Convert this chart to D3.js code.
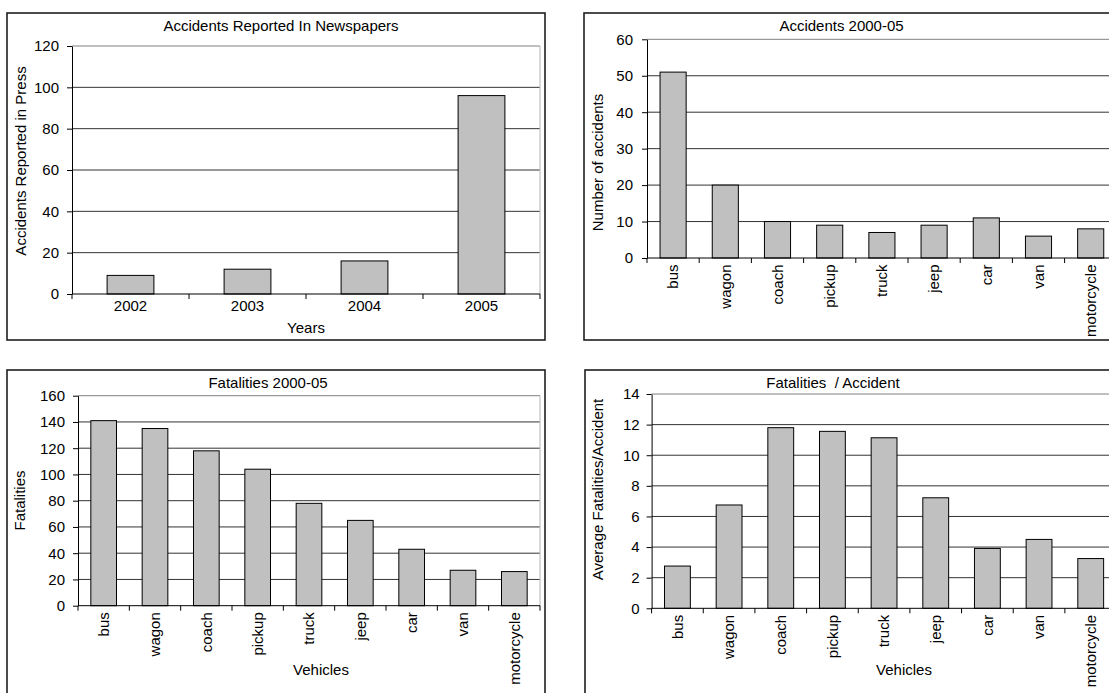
<!DOCTYPE html>
<html>
<head>
<meta charset="utf-8">
<script src="https://cdn.jsdelivr.net/npm/d3@7"></script>
<style>
  html, body { margin: 0; padding: 0; background: #fff; }
  svg { display: block; }
</style>
</head>
<body>
<svg id="chart" width="1109" height="693"></svg>
<script>
// ---- data ----
const yearCats = ["2002", "2003", "2004", "2005"];
const pressReports = [9, 12, 16, 96];

const vehicleCats = ["bus", "wagon", "coach", "pickup", "truck", "jeep", "car", "van", "motorcycle"];
const accidentCounts = [51, 20, 10, 9, 7, 9, 11, 6, 8];
const fatalityCounts = [141, 135, 118, 104, 78, 65, 43, 27, 26];
const fatalitiesPerAccident = [2.76, 6.75, 11.8, 11.56, 11.14, 7.22, 3.91, 4.5, 3.25];

const pressTicks = [0, 20, 40, 60, 80, 100, 120];
const accidentTicks = [0, 10, 20, 30, 40, 50, 60];
const fatalityTicks = [0, 20, 40, 60, 80, 100, 120, 140, 160];
const ratioTicks = [0, 2, 4, 6, 8, 10, 12, 14];

// ---- drawing ----
const FONT = "'Liberation Sans', Arial, Helvetica, sans-serif";
const FS = 15;
const svg = d3.select("#chart");
svg.append("rect").attr("width", 1109).attr("height", 693).attr("fill", "#fff");

function panel(cfg) {
  const g = svg.append("g").attr("font-family", FONT).attr("font-size", FS);
  const p = cfg.plot;

  // chart-area frame
  g.append("rect")
    .attr("x", cfg.frame[0]).attr("y", cfg.frame[1])
    .attr("width", cfg.frame[2] - cfg.frame[0]).attr("height", cfg.frame[3] - cfg.frame[1])
    .attr("fill", "#fff").attr("stroke", "#1e1e1e").attr("stroke-width", 1.6);

  const x = d3.scaleBand().domain(cfg.cats).range([p.left, p.right])
    .paddingInner(cfg.gap).paddingOuter(cfg.gap / 2);
  const y = d3.scaleLinear().domain([0, d3.max(cfg.ticks)]).range([p.bottom, p.top]);

  // horizontal gridlines
  g.append("g").selectAll("line").data(cfg.ticks.slice(1, -1)).join("line")
    .attr("x1", p.left).attr("x2", p.right)
    .attr("y1", d => y(d)).attr("y2", d => y(d))
    .attr("stroke", "#333").attr("stroke-width", 1);

  // plot-area border (top & right)
  g.append("line").attr("x1", p.left).attr("x2", p.right)
    .attr("y1", y(d3.max(cfg.ticks))).attr("y2", y(d3.max(cfg.ticks)))
    .attr("stroke", "#808080").attr("stroke-width", 1);
  g.append("line").attr("x1", p.right).attr("x2", p.right)
    .attr("y1", p.top).attr("y2", p.bottom)
    .attr("stroke", "#b4b4b4").attr("stroke-width", 1);

  // bars
  g.append("g").selectAll("rect").data(cfg.values).join("rect")
    .attr("x", (d, i) => x(cfg.cats[i]))
    .attr("y", d => y(d))
    .attr("width", x.bandwidth())
    .attr("height", d => y(0) - y(d))
    .attr("fill", "#c0c0c0").attr("stroke", "#000").attr("stroke-width", 1);

  // y axis
  const ya = g.append("g").attr("transform", `translate(${p.left},0)`)
    .call(d3.axisLeft(y).tickValues(cfg.ticks).tickSize(5).tickSizeOuter(0)
      .tickPadding(cfg.yPad).tickFormat(d3.format("d")));
  ya.attr("font-family", FONT).attr("font-size", FS);
  ya.select(".domain").attr("stroke", "#000");

  // x axis: baseline, boundary ticks, category labels
  const y0 = y(0);
  g.append("line").attr("x1", p.left).attr("x2", p.right)
    .attr("y1", y0).attr("y2", y0).attr("stroke", "#000");
  g.append("g").selectAll("line").data(d3.range(cfg.cats.length + 1)).join("line")
    .attr("x1", i => p.left + i * x.step()).attr("x2", i => p.left + i * x.step())
    .attr("y1", y0).attr("y2", y0 + 5).attr("stroke", "#000");

  const xa = g.append("g").attr("transform", `translate(0,${y0})`)
    .call(d3.axisBottom(x).tickSize(0).tickPadding(6));
  xa.attr("font-family", FONT).attr("font-size", FS);
  xa.select(".domain").remove();
  if (cfg.rotate) {
    xa.selectAll("text")
      .attr("transform", "rotate(-90)")
      .attr("x", -6.5).attr("y", 0).attr("dy", "0.35em")
      .attr("text-anchor", "end");
  }

  // titles
  g.append("text").attr("x", cfg.title.x).attr("y", cfg.title.y).attr("dy", "0.35em")
    .attr("text-anchor", "middle").style("white-space", "pre").text(cfg.title.text);
  g.append("text")
    .attr("transform", `translate(${cfg.yTitle.x},${cfg.yTitle.y}) rotate(-90)`)
    .attr("dy", "0.35em").attr("text-anchor", "middle").text(cfg.yTitle.text);
  if (cfg.xTitle) {
    g.append("text").attr("x", cfg.xTitle.x).attr("y", cfg.xTitle.y).attr("dy", "0.35em")
      .attr("text-anchor", "middle").text(cfg.xTitle.text);
  }
}

panel({
  frame: [7, 13, 545, 340],
  plot: { left: 72, right: 540, top: 46, bottom: 294 },
  cats: yearCats, values: pressReports, ticks: pressTicks,
  gap: 0.6, yPad: 8, rotate: false,
  title: { text: "Accidents Reported In Newspapers", x: 281, y: 26 },
  yTitle: { text: "Accidents Reported in Press", x: 20.5, y: 161 },
  xTitle: { text: "Years", x: 306, y: 328 }
});

panel({
  frame: [584, 13, 1125, 340],
  plot: { left: 647, right: 647 + 9 * 52.2, top: 39.3, bottom: 258 },
  cats: vehicleCats, values: accidentCounts, ticks: accidentTicks,
  gap: 0.5, yPad: 9, rotate: true,
  title: { text: "Accidents 2000-05", x: 841.5, y: 26 },
  yTitle: { text: "Number of accidents", x: 598, y: 162.5 }
});

panel({
  frame: [7, 370, 545, 705],
  plot: { left: 78, right: 540, top: 395.7, bottom: 605.7 },
  cats: vehicleCats, values: fatalityCounts, ticks: fatalityTicks,
  gap: 0.5, yPad: 8, rotate: true,
  title: { text: "Fatalities 2000-05", x: 268, y: 383 },
  yTitle: { text: "Fatalities", x: 20, y: 500.5 },
  xTitle: { text: "Vehicles", x: 321, y: 670 }
});

panel({
  frame: [585, 370, 1125, 705],
  plot: { left: 651.6, right: 651.6 + 9 * 51.66, top: 394, bottom: 608.3 },
  cats: vehicleCats, values: fatalitiesPerAccident, ticks: ratioTicks,
  gap: 0.5, yPad: 7, rotate: true,
  title: { text: "Fatalities  / Accident", x: 833, y: 383 },
  yTitle: { text: "Average Fatalities/Accident", x: 598, y: 489.5 },
  xTitle: { text: "Vehicles", x: 904, y: 670 }
});
</script>
</body>
</html>
